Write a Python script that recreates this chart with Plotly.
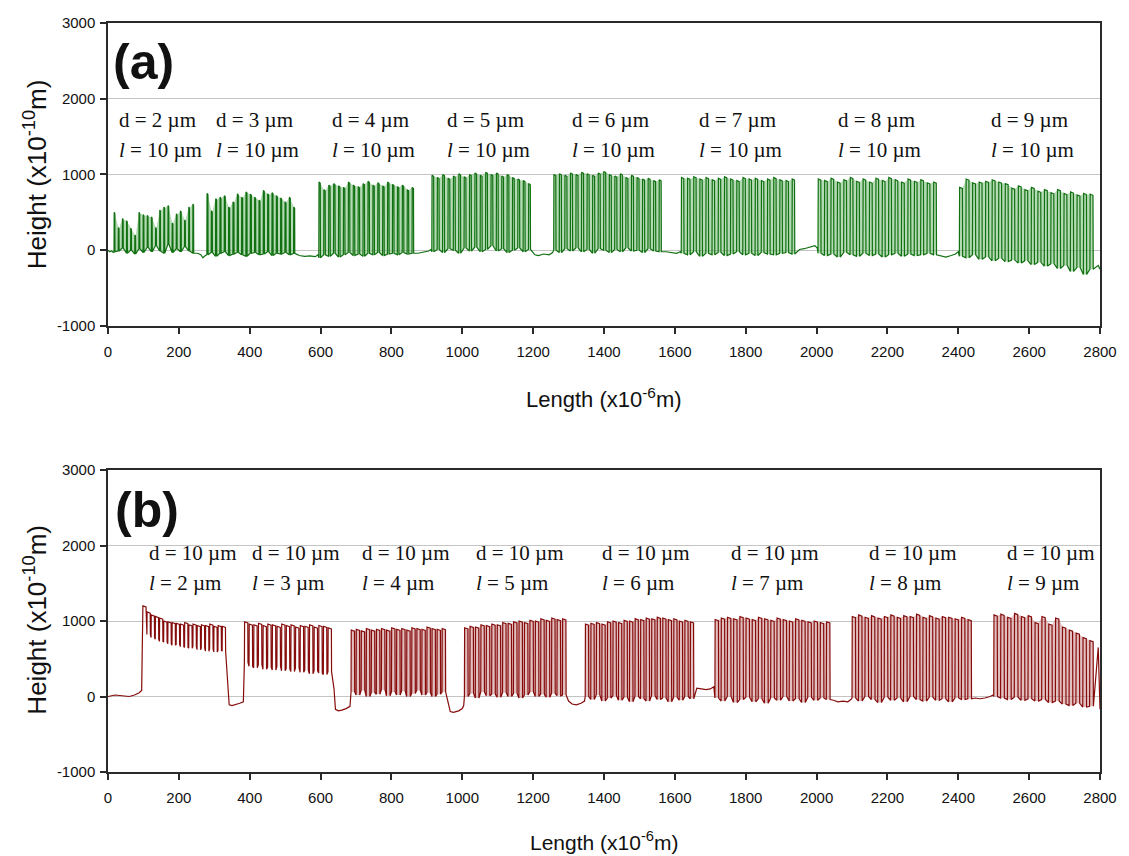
import plotly.graph_objects as go

# ---------------- Panel (a): d varies, l = 10 um ----------------
a_d = [2, 3, 4, 5, 6, 7, 8, 9]
a_l = [10, 10, 10, 10, 10, 10, 10, 10]
a_seg_start = [17, 279, 595, 914, 1258, 1618, 2004, 2403]
a_seg_end = [251, 536, 872, 1202, 1571, 1948, 2348, 2790]
a_peaks = [
    [500, 300, 420, 390, 290, 200, 500, 470, 460, 440, 300, 530, 570, 590, 360, 480, 520, 400, 570, 610],
    [750, 520, 680, 700, 720, 570, 640, 745, 700, 770, 740, 700, 660, 790, 745, 760, 720, 690, 640, 700, 570],
    [900, 800, 860, 880, 850, 830, 900, 860, 840, 880, 910, 860, 890, 850, 900, 870, 840, 860, 800, 830],
    [990, 960, 1000, 950, 980, 1010, 970, 1000, 1020, 990, 1030, 1000, 1020, 980, 1000, 960, 940, 920, 880],
    [1000, 1010, 990, 1020, 1000, 1030, 1010, 990, 1020, 1040, 1000, 980, 1010, 960, 990, 960, 940, 950, 920, 930],
    [960, 950, 970, 940, 960, 930, 950, 970, 940, 920, 960, 940, 950, 920, 940, 960, 930, 920, 940],
    [940, 920, 950, 900, 930, 960, 910, 940, 900, 950, 920, 960, 930, 900, 940, 910, 930, 890, 900],
    [830, 940, 890, 900, 910, 930, 900, 880, 820, 850, 800, 830, 780, 800, 760, 800, 750, 770, 730, 750, 740],
]
a_troughs = [
    [-20, -10, 30, -40, 0, -50, 20, -30, 40, -20, 60, -10, -40, 80, -30, 20, -20, 50, -10, -40],
    [-60, -30, -80, -40, -20, -70, -50, -30, -60, -80, -40, -30, -60, -50, -20, -70, -40, -50, -30, -60, -40],
    [-100, -60, -80, -40, -90, -60, -30, -70, -50, -80, -40, -60, -30, -70, -50, -40, -60, -30, -50, -40],
    [-20, 10, -30, 20, 0, -40, 30, -10, 40, -20, 10, 60, -10, 20, -30, 0, 30, -20, 10],
    [0, -30, 20, -10, 30, -20, 10, -40, 20, 0, -30, 10, -20, 30, -10, 0, -30, 20, -10, -20],
    [-40, -60, -20, -80, -40, -60, -30, -70, -50, -20, -60, -40, -70, -30, -50, -60, -40, -30, -50],
    [-40, -70, -50, -90, -30, -60, -80, -40, -70, -50, -90, -60, -40, -80, -50, -70, -60, -40, -60],
    [-80, -100, -60, -120, -90, -140, -110, -150, -130, -170, -140, -190, -160, -210, -180, -240, -200, -280, -230, -320, -250],
]
# baseline (flat) stretches before, between and after the patterned segments
a_gap_x = [
    [0, 5, 10, 15],
    [253, 262, 268, 272, 277],
    [540, 555, 570, 585, 593],
    [875, 885, 895, 905, 912],
    [1205, 1215, 1230, 1245, 1255],
    [1575, 1590, 1605, 1615],
    [1952, 1965, 1980, 1995, 2002],
    [2352, 2365, 2380, 2392, 2400],
    [2795, 2800],
]
a_gap_y = [
    [0, -20, -10, -30],
    [-40, -60, -100, -80, -60],
    [-70, -80, -75, -85, -60],
    [-40, -30, -20, -10, 10],
    [-60, -70, -50, -60, -30],
    [-20, -30, -40, -20],
    [10, 20, 40, 60, 30],
    [-80, -90, -70, -50, -20],
    [-200, -250],
]

# ---------------- Panel (b): d = 10 um, l varies ----------------
b_d = [10, 10, 10, 10, 10, 10, 10, 10]
b_l = [2, 3, 4, 5, 6, 7, 8, 9]
b_seg_start = [98, 385, 686, 1006, 1347, 1713, 2100, 2500]
b_seg_end = [334, 634, 957, 1298, 1659, 2045, 2445, 2790]
b_peaks = [
    [1200, 1120, 1080, 1060, 1040, 1000, 990, 980, 970, 960, 980, 950, 960, 940, 950, 940, 960, 930, 940, 930],
    [990, 960, 950, 970, 940, 960, 950, 930, 960, 940, 950, 920, 940, 930, 950, 920, 940, 930, 910],
    [880, 890, 870, 900, 880, 890, 900, 880, 910, 890, 900, 880, 910, 900, 890, 920, 900, 890, 900],
    [910, 930, 920, 950, 940, 960, 950, 980, 970, 990, 1000, 980, 1010, 1000, 1030, 1010, 1040, 1020, 1030],
    [960, 970, 980, 960, 990, 1000, 980, 1010, 1000, 1030, 1020, 1040, 1030, 1050, 1040, 1020, 1030, 1000, 1010, 990],
    [1020, 1040, 1050, 1030, 1060, 1040, 1020, 1050, 1030, 1010, 1040, 1020, 1000, 1030, 1010, 990, 1000, 980, 990],
    [1060, 1080, 1050, 1070, 1040, 1060, 1080, 1050, 1070, 1060, 1090, 1050, 1070, 1040, 1060, 1050, 1030, 1050, 1020],
    [1080, 1090, 1050, 1100, 1060, 1070, 980, 1060, 960, 1040, 920, 880, 840, 780, 740],
]
b_troughs = [
    [880, 820, 780, 760, 730, 720, 700, 680, 690, 660, 650, 640, 660, 620, 640, 600, 630, 590, 610, 600],
    [450, 400, 380, 420, 360, 390, 350, 400, 340, 370, 330, 380, 320, 350, 300, 340, 310, 290, 330],
    [60, 20, 80, 0, 50, 30, 90, 10, 60, 20, 70, 0, 40, 80, 20, 50, 0, 30, 60],
    [0, 40, -20, 60, 10, 30, -10, 50, 0, 40, -20, 20, 60, 0, 30, -10, 40, 10, 20],
    [0, -40, 20, -60, -20, 10, -50, -10, -70, 0, -30, -60, 10, -40, -20, -70, -10, -50, 0, -30],
    [-20, -60, 0, -80, -40, -10, -70, -30, -90, -20, -50, 0, -60, -30, -80, -10, -50, -20, -40],
    [-20, -60, 0, -40, -80, -10, -50, -20, -70, 0, -40, -60, -10, -50, -30, -70, -20, -40, -30],
    [0, -20, -40, -10, -50, -30, -60, -40, -80, -60, -100, -120, -90, -140, -130],
]
b_gap_x = [
    [0, 20, 40, 60, 75, 88, 95],
    [338, 342, 350, 360, 372, 382],
    [638, 642, 650, 660, 672, 683],
    [960, 966, 975, 990, 1000, 1004],
    [1300, 1310, 1322, 1335, 1345],
    [1662, 1675, 1688, 1700, 1710],
    [2048, 2060, 2075, 2088, 2097],
    [2448, 2460, 2475, 2490, 2498],
    [2795, 2800],
]
b_gap_y = [
    [0, 20, 10, 0, 20, 50, 80],
    [150, -110, -120, -110, -90, -70],
    [100, -170, -190, -180, -160, -130],
    [-100, -200, -210, -190, -160, -120],
    [-60, -100, -110, -90, -60],
    [110, 100, 90, 100, 130],
    [-50, -70, -60, -70, -40],
    [-20, -30, -20, 0, 20],
    [650, -170],
]

a_labels_x = [25, 299, 626, 950, 1305, 1663, 2054, 2487]
b_labels_x = [109, 402, 710, 1034, 1389, 1752, 2143, 2531]
y_tickvals = [-1000, 0, 1000, 2000, 3000]
y_ticktext = ["-1000", "0", "1000", "2000", "3000"]

# style: which segments show the dense (light) shading between strokes
a_shade = [True, True, True, True, True, True, True, True]
b_shade = [False, False, True, True, True, True, True, True]


def pulse_points(x0, p, top, h, t):
    return ([x0, x0 + 0.04 * p, x0 + (0.04 + top * 0.9) * p, x0 + (0.08 + top * 0.9) * p],
            [t, h, h - 15, t])


def build_trace(seg_start, seg_end, peaks, troughs, gap_x, gap_y, d_list, l_list):
    xs, ys = [], []
    shades = []
    for k in range(len(seg_start)):
        xs += gap_x[k]
        ys += gap_y[k]
        n = len(peaks[k])
        p = (seg_end[k] - seg_start[k]) / n
        top = d_list[k] / (d_list[k] + l_list[k])
        up_x, up_y, lo_x, lo_y = [], [], [], []
        for i in range(n):
            x0 = seg_start[k] + i * p
            px, py = pulse_points(x0, p, top, peaks[k][i], troughs[k][i])
            xs += px
            ys += py
            up_x += px[1:3]
            up_y += py[1:3]
            lo_x += [px[0], px[3]]
            lo_y += [py[0], py[3]]
        shades.append((up_x + lo_x[::-1] + [up_x[0]], up_y + lo_y[::-1] + [up_y[0]]))
    xs += gap_x[-1]
    ys += gap_y[-1]
    return xs, ys, shades


ax, ay, a_sh = build_trace(a_seg_start, a_seg_end, a_peaks, a_troughs, a_gap_x, a_gap_y, a_d, a_l)
bx, by, b_sh = build_trace(b_seg_start, b_seg_end, b_peaks, b_troughs, b_gap_x, b_gap_y, b_d, b_l)

fig = go.Figure()
for k, (sx, sy) in enumerate(a_sh):
    if a_shade[k]:
        fig.add_trace(go.Scatter(x=sx, y=sy, mode="lines", fill="toself", fillcolor="rgba(120,190,120,0.55)",
                                 line=dict(width=0), xaxis="x", yaxis="y", showlegend=False, hoverinfo="skip"))
for k, (sx, sy) in enumerate(b_sh):
    if b_shade[k]:
        fig.add_trace(go.Scatter(x=sx, y=sy, mode="lines", fill="toself", fillcolor="rgba(200,130,130,0.5)",
                                 line=dict(width=0), xaxis="x2", yaxis="y2", showlegend=False, hoverinfo="skip"))
fig.add_trace(go.Scatter(x=ax, y=ay, mode="lines", line=dict(color="#117011", width=1.2),
                         xaxis="x", yaxis="y", showlegend=False, hoverinfo="skip"))
fig.add_trace(go.Scatter(x=bx, y=by, mode="lines", line=dict(color="#860c0c", width=1.2),
                         xaxis="x2", yaxis="y2", showlegend=False, hoverinfo="skip"))

tickfont = dict(family="Arial, Liberation Sans, sans-serif", size=15, color="#111111")
axis_common = dict(
    showline=True, linecolor="#2a2a2a", linewidth=1.5, mirror=True,
    ticks="outside", ticklen=6, tickwidth=1.5, tickcolor="#2a2a2a", tickfont=tickfont,
)
xaxis_common = dict(axis_common, range=[0, 2800], tickmode="linear", tick0=0, dtick=200,
                    showgrid=False, zeroline=False, ticklabelstandoff=5)
yaxis_common = dict(axis_common, range=[-1000, 3000], tickmode="array", tickvals=y_tickvals,
                    ticktext=y_ticktext, showgrid=True, gridcolor="#c4c4c4", gridwidth=1,
                    zeroline=True, zerolinecolor="#c4c4c4", zerolinewidth=1, ticklabelstandoff=2)

fig.update_layout(
    width=1129, height=856, autosize=False,
    margin=dict(l=108, r=19, t=23, b=84),
    paper_bgcolor="white", plot_bgcolor="white",
    xaxis=dict(xaxis_common, domain=[0, 1], anchor="y"),
    yaxis=dict(yaxis_common, domain=[0.5955, 1.0], anchor="x"),
    xaxis2=dict(xaxis_common, domain=[0, 1], anchor="y2"),
    yaxis2=dict(yaxis_common, domain=[0.0, 0.4032], anchor="x2"),
)

ann = []
serif = dict(family="Liberation Serif, Times New Roman, serif", size=21, color="#111111")
for i in range(8):
    ann.append(dict(x=a_labels_x[i], y=1724, xref="x", yref="y", xanchor="left", yanchor="middle",
                    text=f"d = {a_d[i]} µm", showarrow=False, font=serif))
    ann.append(dict(x=a_labels_x[i], y=1329, xref="x", yref="y", xanchor="left", yanchor="middle",
                    text=f"<i>l</i> = {a_l[i]} µm", showarrow=False, font=serif))
    ann.append(dict(x=b_labels_x[i], y=1895, xref="x2", yref="y2", xanchor="left", yanchor="middle",
                    text=f"d = {b_d[i]} µm", showarrow=False, font=serif))
    ann.append(dict(x=b_labels_x[i], y=1500, xref="x2", yref="y2", xanchor="left", yanchor="middle",
                    text=f"<i>l</i> = {b_l[i]} µm", showarrow=False, font=serif))

sans = "Arial, Liberation Sans, sans-serif"
common = dict(xref="paper", yref="paper", showarrow=False, xanchor="center", yanchor="middle")
ann += [
    dict(common, x=0.036, y=0.948, text="<b>(a)</b>", font=dict(family=sans, size=50, color="#111111")),
    dict(common, x=0.039, y=0.35, text="<b>(b)</b>", font=dict(family=sans, size=50, color="#111111")),
    dict(common, x=-0.0729, y=0.7977, text="Height (x10<sup>-10</sup>m)", textangle=-90,
         font=dict(family=sans, size=26, color="#111111")),
    dict(common, x=-0.0729, y=0.203, text="Height (x10<sup>-10</sup>m)", textangle=-90,
         font=dict(family=sans, size=26, color="#111111")),
    dict(common, x=0.5, y=0.4993, text="Length (x10<sup>-6</sup>m)",
         font=dict(family=sans, size=22, color="#111111")),
    dict(common, x=0.5, y=-0.092, text="Length (x10<sup>-6</sup>m)",
         font=dict(family=sans, size=21, color="#111111")),
]
fig.update_layout(annotations=ann)

fig.write_html("out.html")
